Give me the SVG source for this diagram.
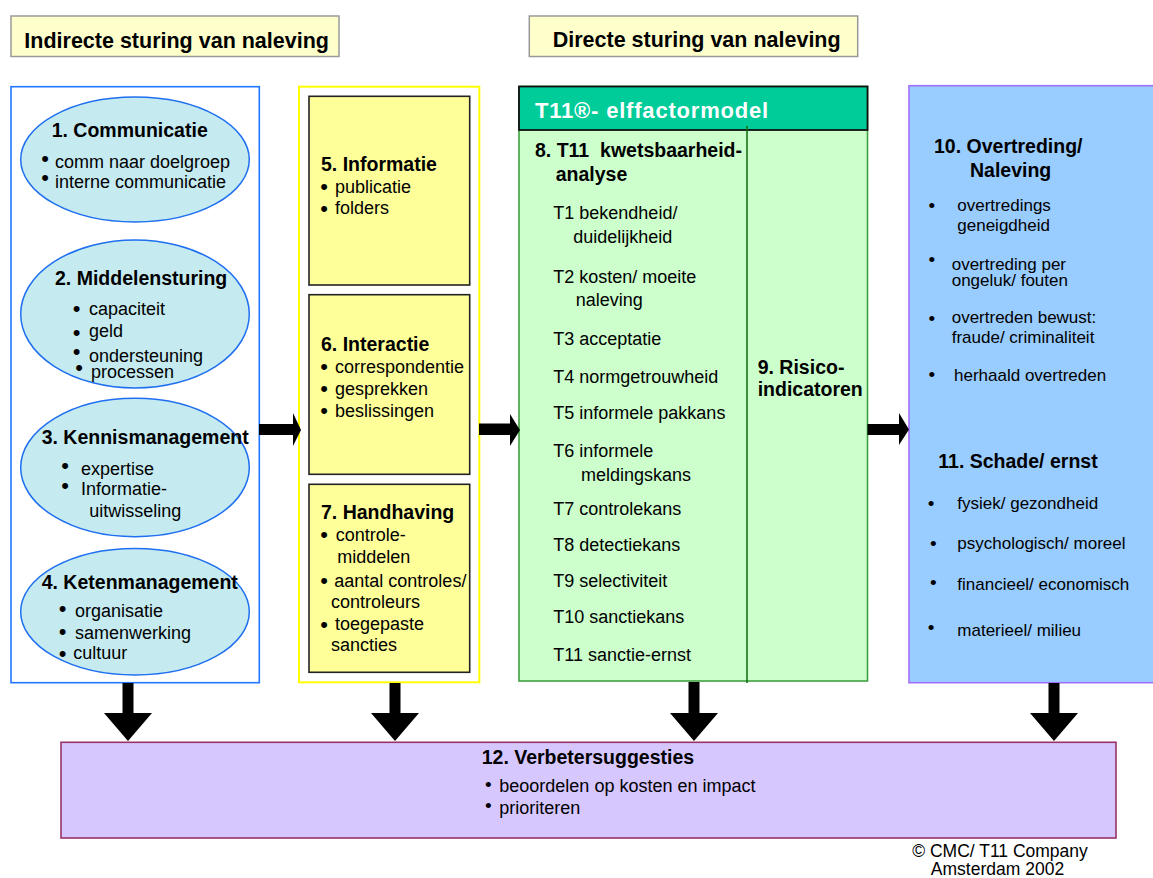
<svg xmlns="http://www.w3.org/2000/svg" width="1153" height="878" viewBox="0 0 1153 878">
<style>
text{font-family:"Liberation Sans",Arial,Helvetica,sans-serif;fill:#000}
.h{font-size:21.5px;font-weight:bold}
.bt{font-size:19.5px;font-weight:bold}
.r{font-size:18px}
.s{font-size:17px}
.bb{font-size:22px}
.bm{font-size:19px}
.hdr{fill:#FFFFCC;stroke:#999999;stroke-width:1.5}
.ell{fill:#C5EBF1;stroke:#1F6FF0;stroke-width:1.5}
.ybox{fill:#FFFF99;stroke:#222222;stroke-width:1.6}
.arr{fill:#000}
</style>
<rect width="1153" height="878" fill="#FFFFFF"/>

<g id="header-indirect">
<rect class="hdr" x="11" y="16" width="328" height="40.5"/>
<text class="h" x="24.3" y="47.5">Indirecte sturing van naleving</text>
</g>
<g id="header-direct">
<rect class="hdr" x="529.3" y="16" width="328.4" height="40.5"/>
<text class="h" x="552.7" y="47">Directe sturing van naleving</text>
</g>

<g id="indirect-column">
<rect x="11" y="86.7" width="248.3" height="596" fill="#FFFFFF" stroke="#2277FF" stroke-width="1.6"/>
</g>

<g id="node-1">
<ellipse class="ell" cx="135" cy="159.5" rx="114.3" ry="62.5"/>
<text class="bt" x="51.7" y="136.7">1. Communicatie</text>
<text class="r" x="41.15" y="165.5"><tspan class="bb">•</tspan><tspan x="55" y="168.3">comm naar doelgroep</tspan></text>
<text class="r" x="41.15" y="185"><tspan class="bb">•</tspan><tspan x="55" y="188.3">interne communicatie</tspan></text>
</g>

<g id="node-2">
<ellipse class="ell" cx="135" cy="314" rx="114.3" ry="74"/>
<text class="bt" x="55" y="285">2. Middelensturing</text>
<text class="r" x="72.85" y="315.5"><tspan class="bb">•</tspan><tspan x="89" y="315">capaciteit</tspan></text>
<text class="r" x="72.85" y="339.5"><tspan class="bb">•</tspan><tspan x="89" y="337.3">geld</tspan></text>
<text class="r" x="72.85" y="359"><tspan class="bb">•</tspan><tspan x="89" y="361.7">ondersteuning</tspan></text>
<text class="r" x="75.15" y="375"><tspan class="bb">•</tspan><tspan x="91" y="378.3">processen</tspan></text>
</g>

<g id="node-3">
<ellipse class="ell" cx="135" cy="467.5" rx="114.3" ry="69.2"/>
<text class="bt" x="41.7" y="444.3">3. Kennismanagement</text>
<text class="r" x="61.15" y="473"><tspan class="bb">•</tspan><tspan x="81" y="475">expertise</tspan></text>
<text class="r" x="61.15" y="493"><tspan class="bb">•</tspan><tspan x="81" y="495">Informatie-</tspan></text>
<text class="r" x="89.3" y="516.7">uitwisseling</text>
</g>

<g id="node-4">
<ellipse class="ell" cx="135" cy="611.7" rx="114.3" ry="63.3"/>
<text class="bt" x="41.7" y="589">4. Ketenmanagement</text>
<text class="r" x="58.85" y="615.6"><tspan class="bb">•</tspan><tspan x="75" y="617.3">organisatie</tspan></text>
<text class="r" x="58.85" y="639"><tspan class="bb">•</tspan><tspan x="75" y="639.3">samenwerking</tspan></text>
<text class="r" x="58.85" y="661.3"><tspan class="bb">•</tspan><tspan x="73.3" y="659.3">cultuur</tspan></text>
</g>

<g id="instruments-column">
<rect x="299" y="86.7" width="180.3" height="595.6" fill="#FFFFFF" stroke="#FFFF00" stroke-width="2"/>
</g>

<g id="node-5">
<rect class="ybox" x="309" y="96.3" width="160.7" height="188.7"/>
<text class="bt" x="321" y="170.7">5. Informatie</text>
<text class="r" x="320.15" y="194"><tspan class="bb">•</tspan><tspan x="335" y="192.7">publicatie</tspan></text>
<text class="r" x="320.15" y="215.6"><tspan class="bb">•</tspan><tspan x="335" y="214.3">folders</tspan></text>
</g>

<g id="node-6">
<rect class="ybox" x="309" y="294.7" width="160.7" height="179.6"/>
<text class="bt" x="321" y="350.7">6. Interactie</text>
<text class="r" x="320.15" y="374"><tspan class="bb">•</tspan><tspan x="335" y="372.7">correspondentie</tspan></text>
<text class="r" x="320.15" y="395.6"><tspan class="bb">•</tspan><tspan x="335" y="395">gesprekken</tspan></text>
<text class="r" x="320.15" y="418"><tspan class="bb">•</tspan><tspan x="335" y="416.7">beslissingen</tspan></text>
</g>

<g id="node-7">
<rect class="ybox" x="309" y="484.3" width="160.7" height="188"/>
<text class="bt" x="321" y="519">7. Handhaving</text>
<text class="r" x="320.15" y="542.3"><tspan class="bb">•</tspan><tspan x="335.7" y="540.7">controle-</tspan></text>
<text class="r" x="337.3" y="562.7">middelen</text>
<text class="r" x="320.15" y="588.3"><tspan class="bb">•</tspan><tspan x="334.3" y="586.7">aantal controles/</tspan></text>
<text class="r" x="331" y="608.3">controleurs</text>
<text class="r" x="320.15" y="631.6"><tspan class="bb">•</tspan><tspan x="335" y="630">toegepaste</tspan></text>
<text class="r" x="331" y="650.7">sancties</text>
</g>

<g id="node-8">
<rect x="519" y="86.5" width="348.5" height="594.5" fill="#CCFFCC" stroke="#3FA03F" stroke-width="1.6"/>
<rect x="519" y="86.5" width="348.5" height="43.5" fill="#00CC99" stroke="#111111" stroke-width="1.8"/>
<text x="535" y="118.3" style="font-size:22px;font-weight:bold;fill:#FFFFFF;letter-spacing:0.8px">T11®- elffactormodel</text>
<line x1="747" y1="126" x2="747" y2="683" stroke="#0B6B0B" stroke-width="1.5"/>
<text class="bt" x="535" y="156.7" style="white-space:pre" xml:space="preserve">8. T11  kwetsbaarheid-</text>
<text class="bt" x="555.7" y="181">analyse</text>
<text class="r" x="553.3" y="219">T1 bekendheid/</text>
<text class="r" x="573.3" y="242.7">duidelijkheid</text>
<text class="r" x="553.3" y="283.3">T2 kosten/ moeite</text>
<text class="r" x="575.7" y="305.7">naleving</text>
<text class="r" x="553.3" y="345">T3 acceptatie</text>
<text class="r" x="553.3" y="383.3">T4 normgetrouwheid</text>
<text class="r" x="553.3" y="419.3">T5 informele pakkans</text>
<text class="r" x="553.3" y="456.7">T6 informele</text>
<text class="r" x="581" y="481">meldingskans</text>
<text class="r" x="553.3" y="515">T7 controlekans</text>
<text class="r" x="553.3" y="551">T8 detectiekans</text>
<text class="r" x="553.3" y="586.7">T9 selectiviteit</text>
<text class="r" x="553.3" y="622.7">T10 sanctiekans</text>
<text class="r" x="553.3" y="661">T11 sanctie-ernst</text>
</g>

<g id="node-9">
<text class="bt" x="757.7" y="374">9. Risico-</text>
<text class="bt" x="757.7" y="396">indicatoren</text>
</g>

<g id="node-10-11">
<rect x="909" y="85.7" width="260" height="597" fill="#99CCFF" stroke="#A070FF" stroke-width="1.6"/>
<text class="bt" x="934" y="153.3">10. Overtreding/</text>
<text class="bt" x="970" y="176.7">Naleving</text>
<text class="s" x="928.4" y="212.3"><tspan class="bm">•</tspan><tspan x="957.3" y="210.7">overtredings</tspan></text>
<text class="s" x="957.3" y="230.5">geneigdheid</text>
<text class="s" x="928.4" y="265.6"><tspan class="bm">•</tspan><tspan x="951.7" y="270">overtreding per</tspan></text>
<text class="s" x="951.7" y="286">ongeluk/ fouten</text>
<text class="s" x="928.4" y="324.6"><tspan class="bm">•</tspan><tspan x="951.7" y="323.3">overtreden bewust:</tspan></text>
<text class="s" x="951.7" y="342.5">fraude/ criminaliteit</text>
<text class="s" x="928.4" y="381.3"><tspan class="bm">•</tspan><tspan x="954" y="380.5">herhaald overtreden</tspan></text>
<text class="bt" x="938.3" y="468.3">11. Schade/ ernst</text>
<text class="s" x="927.7" y="509.9"><tspan class="bm">•</tspan><tspan x="957.3" y="509">fysiek/ gezondheid</tspan></text>
<text class="s" x="930" y="549.9"><tspan class="bm">•</tspan><tspan x="957.3" y="549">psychologisch/ moreel</tspan></text>
<text class="s" x="930" y="588.9"><tspan class="bm">•</tspan><tspan x="957.3" y="590">financieel/ economisch</tspan></text>
<text class="s" x="927.7" y="633.9"><tspan class="bm">•</tspan><tspan x="957.3" y="636">materieel/ milieu</tspan></text>
</g>

<g id="node-12">
<rect x="61" y="742.3" width="1055" height="95.7" fill="#D7C7FF" stroke="#993366" stroke-width="1.6"/>
<text class="bt" x="481.7" y="764.3">12. Verbetersuggesties</text>
<text class="r" x="485" y="790.6"><tspan class="bm">•</tspan><tspan x="499.3" y="792.3">beoordelen op kosten en impact</tspan></text>
<text class="r" x="485" y="812.3"><tspan class="bm">•</tspan><tspan x="499.3" y="814">prioriteren</tspan></text>
</g>

<g id="copyright">
<text x="1000" y="857.3" style="font-size:17.5px;text-anchor:middle">© CMC/ T11 Company</text>
<text x="997.5" y="875" style="font-size:17.5px;text-anchor:middle">Amsterdam 2002</text>
</g>

<g id="connectors">
<polygon class="arr" points="259,424 293,424 293,413 301,430 293,446 293,435 259,435"/>
<polygon class="arr" points="479,423.5 510,423.5 510,414 520,430 510,446 510,435 479,435"/>
<polygon class="arr" points="867.5,424 899,424 899,413 909,429.5 899,445 899,435 867.5,435"/>
<polygon class="arr" points="122.5,683 133.5,683 133.5,713 152,713 128,741 104,713 122.5,713"/>
<polygon class="arr" points="389.5,683 400.5,683 400.5,713 419,713 395,741 371,713 389.5,713"/>
<polygon class="arr" points="688.5,682 699.5,682 699.5,713 718,713 694,741 670,713 688.5,713"/>
<polygon class="arr" points="1048.5,683 1059.5,683 1059.5,713 1078,713 1054,741 1030,713 1048.5,713"/>
</g>
</svg>
